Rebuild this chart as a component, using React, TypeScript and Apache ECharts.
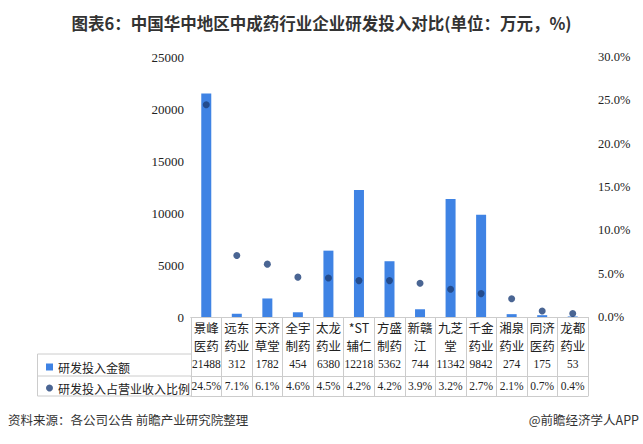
import React, { useEffect, useRef } from 'react';
import * as echarts from 'echarts';

const categories = ['景峰\n医药', '远东\n药业', '天济\n草堂', '全宇\n制药', '太龙\n药业', '*ST\n辅仁', '方盛\n制药', '新赣\n江', '九芝\n堂', '千金\n药业', '湘泉\n药业', '同济\n医药', '龙都\n药业'];
const amounts = [21488, 312, 1782, 454, 6380, 12218, 5362, 744, 11342, 9842, 274, 175, 53];
const ratios = [24.5, 7.1, 6.1, 4.6, 4.5, 4.2, 4.2, 3.9, 3.2, 2.7, 2.1, 0.7, 0.4];
const seriesNames = ['研发投入金额', '研发投入占营业收入比例'];
const titleText = '图表6：中国华中地区中成药行业企业研发投入对比(单位：万元，%)';
const sourceText = '资料来源：各公司公告 前瞻产业研究院整理';
const brandText = '@前瞻经济学人APP';

const SANS = '"Noto Sans CJK SC", "Microsoft YaHei", sans-serif';
const SERIF = '"Liberation Serif", "Times New Roman", serif';
const LINE = '#cccccc';
const BAR = '#3f83e4';
const DOT = '#1d3e78';

export default function App() {
  const ref = useRef<HTMLDivElement>(null);
  useEffect(() => {
    if (!ref.current) return;
    const chart = echarts.init(ref.current, undefined, { renderer: 'svg' });
    const tableAxis = (offset: number, labels: string[] | null, margin: number) => ({
      type: 'category',
      data: categories,
      position: 'bottom',
      offset,
      gridIndex: 0,
      axisLine: { show: true, lineStyle: { color: LINE, width: 1 } },
      axisTick: { show: false },
      axisLabel: labels
        ? {
            show: true,
            interval: 0,
            margin,
            fontFamily: SERIF,
            fontSize: 11.5,
            color: '#222',
            formatter: (_v: string, i: number) => labels[i],
          }
        : { show: false },
    });
    chart.setOption({
      animation: false,
      title: {
        text: titleText,
        left: 'center',
        top: 10,
        textStyle: { fontFamily: SANS, fontSize: 16.5, fontWeight: 'bold', color: '#333' },
      },
      grid: { left: 191, right: 55, top: 57, bottom: 127, containLabel: false },
      legend: {
        orient: 'vertical',
        left: 41,
        top: 356,
        itemWidth: 7,
        itemHeight: 7,
        itemGap: 9,
        selectedMode: false,
        textStyle: { fontFamily: SANS, fontSize: 12, color: '#222' },
        data: [
          { name: seriesNames[0], icon: 'rect' },
          { name: seriesNames[1], icon: 'circle' },
        ],
      },
      xAxis: [
        {
          type: 'category',
          data: categories,
          position: 'bottom',
          axisLine: { show: true, lineStyle: { color: LINE, width: 1 } },
          axisTick: { show: true, length: 79, interval: 0, lineStyle: { color: LINE, width: 1 } },
          axisLabel: {
            interval: 0,
            margin: 1,
            fontFamily: SANS,
            fontSize: 12.5,
            lineHeight: 18,
            color: '#222',
          },
        },
        tableAxis(37, amounts.map(String), 4),
        tableAxis(59, ratios.map((r) => r.toFixed(1) + '%'), 4),
        tableAxis(79, null, 0),
      ],
      yAxis: [
        {
          type: 'value',
          min: 0,
          max: 25000,
          interval: 5000,
          axisLine: { show: false },
          axisTick: { show: false },
          splitLine: { show: false },
          axisLabel: { fontFamily: SERIF, fontSize: 13, color: '#222', margin: 7, formatter: (v: number) => String(v) },
        },
        {
          type: 'value',
          min: 0,
          max: 30,
          interval: 5,
          position: 'right',
          axisLine: { show: false },
          axisTick: { show: false },
          splitLine: { show: false },
          axisLabel: {
            fontFamily: SERIF,
            fontSize: 12.5,
            color: '#222',
            margin: 10,
            formatter: (v: number) => v.toFixed(1) + '%',
          },
        },
      ],
      series: [
        {
          name: seriesNames[0],
          type: 'bar',
          xAxisIndex: 0,
          yAxisIndex: 0,
          data: amounts,
          barWidth: 10,
          itemStyle: { color: BAR },
        },
        {
          name: seriesNames[1],
          type: 'scatter',
          xAxisIndex: 0,
          yAxisIndex: 1,
          data: ratios,
          symbol: 'circle',
          symbolSize: 7,
          itemStyle: { color: DOT },
        },
      ],
      graphic: [
        { type: 'line', shape: { x1: 37.5, y1: 354, x2: 191, y2: 354 }, style: { stroke: LINE, lineWidth: 1 } },
        { type: 'line', shape: { x1: 37.5, y1: 376, x2: 191, y2: 376 }, style: { stroke: LINE, lineWidth: 1 } },
        { type: 'line', shape: { x1: 37.5, y1: 396, x2: 191, y2: 396 }, style: { stroke: LINE, lineWidth: 1 } },
        { type: 'line', shape: { x1: 37.5, y1: 354, x2: 37.5, y2: 396 }, style: { stroke: LINE, lineWidth: 1 } },
        {
          type: 'text',
          left: 8,
          top: 413,
          style: { text: sourceText, fontFamily: SANS, fontSize: 12.5, fill: '#333' },
        },
        {
          type: 'text',
          right: 4,
          top: 413,
          style: { text: brandText, fontFamily: SANS, fontSize: 12.5, fill: '#333' },
        },
      ],
    });
    return () => chart.dispose();
  }, []);
  return <div ref={ref} style={{ width: 643, height: 444, position: 'absolute', left: 0, top: 0, background: '#fff' }} />;
}
